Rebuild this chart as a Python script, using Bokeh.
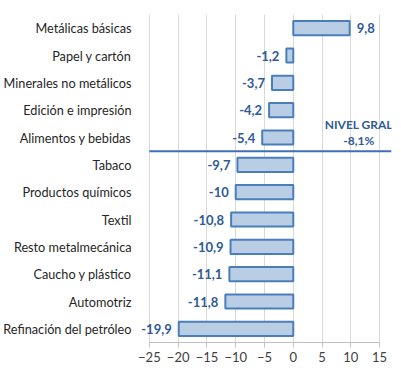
from bokeh.plotting import figure
from bokeh.models import ColumnDataSource, FactorRange, FixedTicker
from bokeh.core.properties import value
from bokeh.embed import file_html
from bokeh.resources import INLINE

categories = ["Metálicas básicas", "Papel y cartón", "Minerales no metálicos",
              "Edición e impresión", "Alimentos y bebidas", "Tabaco",
              "Productos químicos", "Textil", "Resto metalmecánica",
              "Caucho y plástico", "Automotriz", "Refinación del petróleo"]
values = [9.8, -1.2, -3.7, -4.2, -5.4, -9.7, -10.0, -10.8, -10.9, -11.1, -11.8, -19.9]
nivel_gral = -8.1
x_ticks = [-25, -20, -15, -10, -5, 0, 5, 10, 15]

FONT = "Lato"
LABEL_BLUE = "#2F5A96"

cats_bottom_up = list(reversed(categories))
vals_bottom_up = list(reversed(values))

labels = [f"{v:g}".replace(".", ",") for v in vals_bottom_up]
align = ["left" if v >= 0 else "right" for v in vals_bottom_up]
xoff = [7 if v >= 0 else -7 for v in vals_bottom_up]

src = ColumnDataSource(dict(cat=cats_bottom_up, val=vals_bottom_up, lab=labels,
                            align=align, xoff=xoff))

X0, X1 = -26.72, 17.07
p = figure(width=401, height=375, output_backend="svg", toolbar_location=None,
           y_range=FactorRange(factors=cats_bottom_up, range_padding=0),
           x_range=(X0, X1),
           min_border_left=137, min_border_right=10, min_border_top=14,
           min_border_bottom=33)
p.outline_line_color = None
p.background_fill_color = "white"

p.hbar(y="cat", right="val", left=0, height=0.52, source=src,
       fill_color="#B9CDE5", line_color="#4A7EBB", line_width=2)

p.text(x="val", y="cat", text="lab", source=src, text_align="align",
       x_offset="xoff", text_baseline="middle", text_font=value(FONT),
       text_font_style="bold", text_font_size="13px", text_color=LABEL_BLUE)

# reference line for general level: boundary between categories above / below
n_below = sum(1 for v in values if v < nivel_gral)
p.segment(x0=x_ticks[0], x1=X1, y0=n_below, y1=n_below, line_color="#3F6FB6",
          line_width=2)
nivel_txt = "NIVEL GRAL\n" + f"{nivel_gral:g}".replace(".", ",") + "%"
p.text(x=[11.4], y=[n_below + 0.12], text=[nivel_txt], text_align="center",
       text_baseline="bottom", text_font=value(FONT), text_font_style="bold",
       text_font_size="12px", text_color=LABEL_BLUE, text_line_height=1.05)

# axes
p.xaxis.ticker = FixedTicker(ticks=x_ticks)
p.xaxis.bounds = (x_ticks[0], x_ticks[-1])
p.xaxis.axis_line_color = "#BFBFBF"
p.xaxis.major_tick_line_color = "#BFBFBF"
p.xaxis.major_tick_out = 5
p.xaxis.major_tick_in = 0
p.xaxis.minor_tick_line_color = None
p.xaxis.major_label_text_font = FONT
p.xaxis.major_label_text_font_size = "13px"
p.xaxis.major_label_text_color = "#404040"
p.xaxis.major_label_standoff = 4

p.yaxis.axis_line_color = None
p.yaxis.major_tick_line_color = None
p.yaxis.minor_tick_line_color = None
p.yaxis.major_label_text_font = FONT
p.yaxis.major_label_text_font_size = "12.7px"
p.yaxis.major_label_text_color = "#262626"
p.yaxis.major_label_standoff = 2

p.xgrid.grid_line_color = "#D9D9D9"
p.xgrid.ticker = FixedTicker(ticks=x_ticks)
p.ygrid.grid_line_color = None

open("out.html", "w").write(file_html(p, INLINE))
